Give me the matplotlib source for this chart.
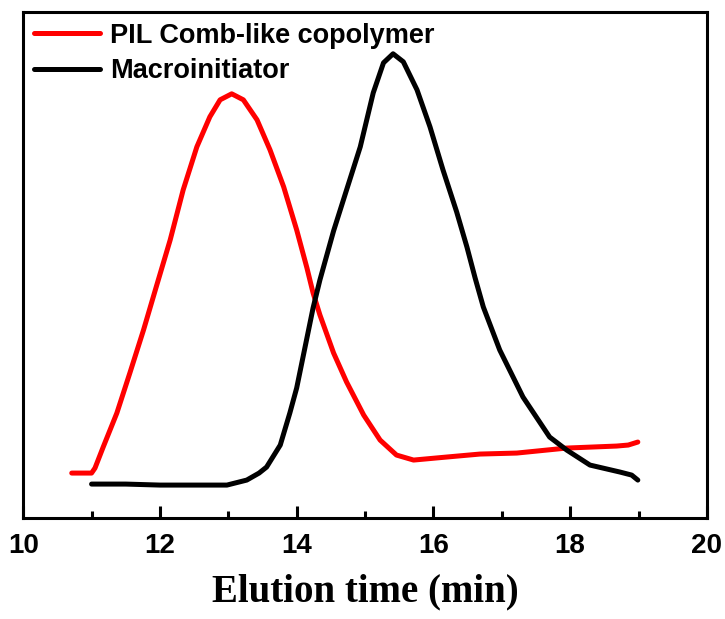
"""GPC traces: PIL comb-like copolymer vs macroinitiator"""
import matplotlib
matplotlib.use("Agg")
from matplotlib import pyplot as plt
from matplotlib.ticker import MultipleLocator

# values (detector response in arbitrary units)
PIL_TIME = [10.71, 11.0, 11.05, 11.17, 11.37, 11.56, 11.76, 11.95, 12.15, 12.34,
            12.54, 12.73, 12.88, 13.05, 13.22, 13.42, 13.61, 13.81, 14.0, 14.15,
            14.24, 14.34, 14.54, 14.73, 14.98, 15.22, 15.46, 15.71, 16.19, 16.68,
            17.22, 17.95, 18.68, 18.85, 18.99]
PIL_SIGNAL = [45, 45, 50, 71, 105, 145, 188, 232, 278, 328,
              371, 401, 418, 424, 418, 398, 368, 331, 288, 250,
              225, 203, 165, 136, 103, 78, 63, 58, 61, 64,
              65, 70, 72, 73, 76]

MACRO_TIME = [11.0, 11.5, 12.0, 12.5, 12.98, 13.27, 13.45, 13.56, 13.76, 13.9,
              14.0, 14.12, 14.24, 14.34, 14.54, 14.73, 14.93, 15.12, 15.27, 15.41,
              15.56, 15.76, 15.95, 16.14, 16.34, 16.49, 16.61, 16.73, 16.97, 17.31,
              17.7, 17.95, 18.29, 18.73, 18.9, 18.99]
MACRO_SIGNAL = [34, 34, 33, 33, 33, 38, 45, 51, 73, 105,
                130, 170, 210, 238, 287, 328, 371, 425, 455, 464,
                456, 428, 391, 348, 306, 271, 240, 211, 168, 121,
                81, 68, 53, 46, 43, 38]

X_TICKS = [10, 12, 14, 16, 18, 20]
LABELS = ["PIL Comb-like copolymer", "Macroinitiator"]

plt.rcParams["font.family"] = ["Liberation Sans", "DejaVu Sans"]

fig = plt.figure(figsize=(7.25, 6.19), dpi=100)
ax = fig.add_axes([0.032, 0.163, 0.943, 0.818])

ax.plot(PIL_TIME, PIL_SIGNAL, color="#ff0000", linewidth=3.6,
        solid_capstyle="round", solid_joinstyle="round", label=LABELS[0])
ax.plot(MACRO_TIME, MACRO_SIGNAL, color="black", linewidth=3.6,
        solid_capstyle="round", solid_joinstyle="round", label=LABELS[1])

ax.set_xlim(10, 20)
ax.set_ylim(0, 506)
ax.set_yticks([])
ax.set_xticks(X_TICKS)
ax.xaxis.set_minor_locator(MultipleLocator(1))
ax.tick_params(axis="x", which="major", direction="in", length=9, width=2.2, pad=11)
ax.tick_params(axis="x", which="minor", direction="in", length=5, width=2.2)
for lbl in ax.get_xticklabels():
    lbl.set_fontweight("bold")
    lbl.set_fontsize(20)

for spine in ax.spines.values():
    spine.set_linewidth(2.2)

ax.set_xlabel("Elution time (min)", fontsize=28, fontweight="bold",
              family=["Liberation Serif", "DejaVu Serif"], labelpad=10)

ax.legend(loc="upper left", frameon=False, prop={"size": 19.5, "weight": "bold"},
          handlelength=2.45, handletextpad=0.35, labelspacing=0.35,
          borderaxespad=0.15, borderpad=0.25)

plt.savefig("out.png", dpi=100)
